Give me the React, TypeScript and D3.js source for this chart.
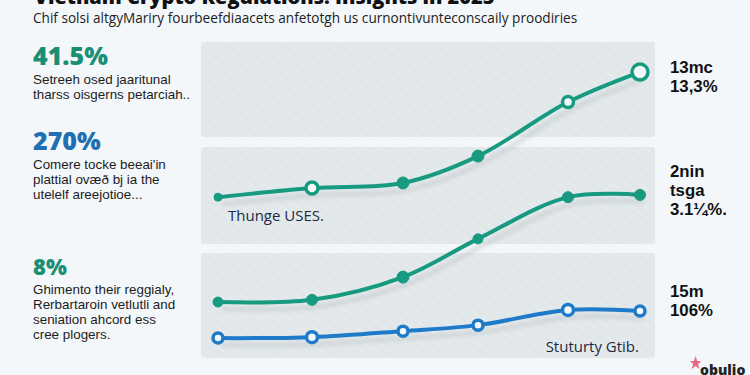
import React from "react";
import * as d3 from "d3";

// horizontal positions of the six observations (months from start)
const periodMonths = [0, 9.4, 18.5, 26.0, 35.0, 42.2];
const adoptionSeries = [50.9, 53.8, 55.4, 63.9, 81.0, 90.5];
const platformSeries = [17.7, 18.4, 25.6, 37.7, 50.9, 51.6];
const stabilitySeries = [6.3, 6.6, 8.5, 10.4, 15.2, 14.9];

// marker styles per point: "f" filled, "h" hollow
const adoptionMarkers = ["f", "h", "f", "f", "h", "h"];
const adoptionRadii = [4, 6, 6, 6, 5.5, 8];
const platformMarkers = ["f", "f", "f", "f", "f", "f"];
const platformRadii = [5, 5.5, 6, 5, 5.5, 5.5];
const stabilityMarkers = ["h", "h", "h", "h", "h", "h"];
const stabilityRadii = [5, 5.5, 5, 5, 5.5, 5];

const title = "Vietnam Crypto Regulations: Insights in 2025";
const subtitle = "Chif solsi altgyMariry fourbeefdiaacets anfetotgh us curnontivunteconscaily proodiries";

const leftStats = [
  { value: "41.5%", color: "#1a8f74", y: 65, lines: ["Setreeh osed jaaritunal", "tharss oisgerns petarciah.."] },
  { value: "270%", color: "#1f6fb3", y: 150, lines: ["Comere tocke beeai'in", "plattial ov\u00e6\u00f0 bj ia the", "utelelf areejotioe..."] },
  { value: "8%", color: "#1a8f74", y: 275, lines: ["Ghimento their reggialy,", "Rerbartaroin vetlutli and", "seniation ahcord ess", "cree plogers."] },
];

const rightStats = [
  { y: 73, lines: ["13mc", "13,3%"] },
  { y: 177, lines: ["2nin", "tsga", "3.1\u00bc%."] },
  { y: 297, lines: ["15m", "106%"] },
];

const panelBands = [
  [42, 137],
  [147, 244],
  [253, 358],
];

const W = 750;
const H = 375;
const FONT = "'Open Sans', 'Noto Sans', sans-serif";
const BODY = "'Liberation Sans', Arial, sans-serif";

export default function App() {
  const x = d3.scaleLinear().domain([0, 42.2]).range([218, 640]);
  const y = d3.scaleLinear().domain([0, 100]).range([358, 42]);
  const line = d3
    .line<number>()
    .x((_, i) => x(periodMonths[i]))
    .y((d) => y(d))
    .curve(d3.curveCatmullRom.alpha(0.5));

  const series = [
    { data: adoptionSeries, color: "#179a80", markers: adoptionMarkers, radii: adoptionRadii },
    { data: platformSeries, color: "#179a80", markers: platformMarkers, radii: platformRadii },
    { data: stabilitySeries, color: "#1e7bc9", markers: stabilityMarkers, radii: stabilityRadii },
  ];

  return (
    <svg width={W} height={H} style={{ position: "absolute", left: 0, top: 0, display: "block" }}>
      <defs>
        <pattern id="hatch" width="8" height="8" patternUnits="userSpaceOnUse" patternTransform="rotate(-55)">
          <line x1="0" y1="0" x2="0" y2="8" stroke="#f5f8f9" strokeWidth="1.1" opacity="0.6" />
        </pattern>
        <filter id="blur" x="-10%" y="-50%" width="120%" height="200%">
          <feGaussianBlur stdDeviation="2.2" />
        </filter>
      </defs>
      <rect x={0} y={0} width={W} height={H} fill="#f3f7f9" />
      <text x={34} y={4} fontFamily={FONT} fontWeight={800} fontSize={20} fill="#111">
        {title}
      </text>
      <text x={33} y={23} fontFamily={FONT} fontSize={13.6} fill="#222">
        {subtitle}
      </text>

      {panelBands.map(([a, b], i) => (
        <g key={i}>
          <rect x={201} y={a} width={454} height={b - a} rx={3} fill="#e2e8ea" />
          <rect x={201} y={a} width={454} height={b - a} rx={3} fill="url(#hatch)" />
        </g>
      ))}

      <text x={228} y={221} fontFamily={FONT} fontSize={15} fill="#1c2a45">
        Thunge USES.
      </text>
      <text x={639} y={352} textAnchor="end" fontFamily={FONT} fontSize={15} fill="#1c2a45">
        Stuturty Gtib.
      </text>

      {series.map((s, si) => (
        <g key={"sh" + si} transform="translate(4,7)" filter="url(#blur)" opacity={0.55}>
          <path d={line(s.data) || ""} fill="none" stroke="#b9c0c4" strokeWidth={4} />
        </g>
      ))}

      {series.map((s, si) => (
        <g key={"s" + si}>
          <path d={line(s.data) || ""} fill="none" stroke={s.color} strokeWidth={4} strokeLinecap="round" />
          {s.data.map((v, i) => (
            <circle
              key={i}
              cx={x(periodMonths[i])}
              cy={y(v)}
              r={s.radii[i]}
              fill={s.markers[i] === "h" ? "#f4f8f9" : s.color}
              stroke={s.color}
              strokeWidth={s.markers[i] === "h" ? 3.5 : 1}
            />
          ))}
        </g>
      ))}

      {leftStats.map((b, i) => (
        <g key={"l" + i}>
          <text x={33} y={b.y} fontFamily={FONT} fontWeight={800} fontSize={i === 2 ? 22 : 25} fill={b.color}>
            {b.value}
          </text>
          {b.lines.map((t, j) => (
            <text key={j} x={33} y={b.y + 19 + j * 15} fontFamily={BODY} fontSize={13.4} fill="#1d1d1d">
              {t}
            </text>
          ))}
        </g>
      ))}

      {rightStats.map((b, i) => (
        <g key={"r" + i}>
          {b.lines.map((t, j) => (
            <text key={j} x={670} y={b.y + j * 19} fontFamily={BODY} fontWeight={700} fontSize={16.8} fill="#111">
              {t}
            </text>
          ))}
        </g>
      ))}

      <g>
        <path d="M694,361 l1.6,-5 l1.6,5 l4,0 l-3.2,3 l1.6,5 l-4,-3 l-4,3 l1.6,-5 l-3.2,-3 z" fill="#e0546a" opacity={0.85} />
        <text x={700} y={375} fontFamily={FONT} fontWeight={800} fontSize={14} fill="#222">
          obulio
        </text>
      </g>
    </svg>
  );
}
